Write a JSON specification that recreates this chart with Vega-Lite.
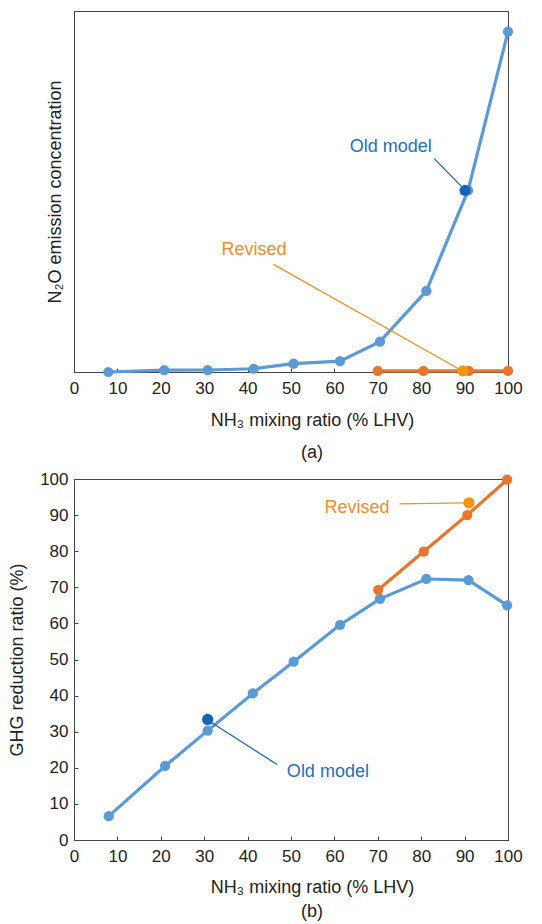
{
  "$schema": "https://vega.github.io/schema/vega-lite/v6.json",
  "padding": {"left": 8, "top": 10, "right": 12, "bottom": 0},
  "spacing": 6,
  "config": {
    "font": "Liberation Sans",
    "view": {"stroke": "#444", "strokeWidth": 1},
    "axis": {
      "domainColor": "#444", "domainWidth": 1, "tickColor": "#444", "tickWidth": 1, "tickSize": -4,
      "labelFontSize": 17, "labelColor": "#222", "labelPadding": 12,
      "titleFontSize": 18, "titleFontWeight": "normal", "titleColor": "#222",
      "grid": false, "labelFlush": false, "labelOverlap": false
    },
    "title": {"fontSize": 18, "fontWeight": "normal", "color": "#222"}
  },
  "datasets": {
    "a": [
      {"series": "Old model", "x": 7.9, "y": 0},
      {"series": "Old model", "x": 20.8, "y": 0.5},
      {"series": "Old model", "x": 30.8, "y": 0.55},
      {"series": "Old model", "x": 41.4, "y": 0.9},
      {"series": "Old model", "x": 50.6, "y": 2.3},
      {"series": "Old model", "x": 61.3, "y": 3.0},
      {"series": "Old model", "x": 70.5, "y": 8.4},
      {"series": "Old model", "x": 81.2, "y": 22.5},
      {"series": "Old model", "x": 90.8, "y": 50.3},
      {"series": "Old model", "x": 100, "y": 94.3},
      {"series": "Revised", "x": 70, "y": 0.3},
      {"series": "Revised", "x": 80.5, "y": 0.3},
      {"series": "Revised", "x": 91, "y": 0.3},
      {"series": "Revised", "x": 100, "y": 0.3}
    ],
    "ahl": [
      {"series": "Old model", "x": 90.1, "y": 50.3},
      {"series": "Revised", "x": 89.6, "y": 0.3}
    ],
    "alab": [
      {"series": "Old model", "x": 73.0, "y": 62.4, "x1": 83.0, "y1": 59.1, "x2": 89.2, "y2": 51.5},
      {"series": "Revised", "x": 41.5, "y": 33.8, "x1": 46.0, "y1": 29.8, "x2": 89.2, "y2": 0.5}
    ],
    "b": [
      {"series": "Old model", "x": 8.0, "y": 6.6},
      {"series": "Old model", "x": 21.0, "y": 20.5},
      {"series": "Old model", "x": 30.8, "y": 30.3},
      {"series": "Old model", "x": 41.2, "y": 40.6},
      {"series": "Old model", "x": 50.6, "y": 49.4},
      {"series": "Old model", "x": 61.3, "y": 59.6},
      {"series": "Old model", "x": 70.5, "y": 66.8},
      {"series": "Old model", "x": 81.2, "y": 72.3},
      {"series": "Old model", "x": 90.9, "y": 72.0},
      {"series": "Old model", "x": 99.8, "y": 65.0},
      {"series": "Revised", "x": 70.1, "y": 69.3},
      {"series": "Revised", "x": 80.6, "y": 79.9},
      {"series": "Revised", "x": 90.6, "y": 90.0},
      {"series": "Revised", "x": 99.8, "y": 99.8}
    ],
    "bhl": [
      {"series": "Old model", "x": 30.8, "y": 33.4},
      {"series": "Revised", "x": 91.0, "y": 93.4}
    ],
    "blab": [
      {"series": "Old model", "x": 58.5, "y": 18.8, "x1": 46.8, "y1": 20.9, "x2": 31.2, "y2": 32.9},
      {"series": "Revised", "x": 65.2, "y": 92.0, "x1": 75.0, "y1": 93.1, "x2": 90.0, "y2": 93.4}
    ]
  },
  "vconcat": [
    {
      "width": 434,
      "height": 361,
      "title": {"text": "(a)", "orient": "bottom", "dx": 21, "offset": 15},
      "encoding": {
        "x": {"field": "x", "type": "quantitative", "scale": {"domain": [0, 100], "nice": false},
              "axis": {"values": [0,10,20,30,40,50,60,70,80,90,100], "title": "NH₃ mixing ratio (% LHV)", "titleX": 238, "titlePadding": 15}},
        "y": {"field": "y", "type": "quantitative", "scale": {"domain": [0, 100], "nice": false},
              "axis": {"labels": false, "ticks": false, "title": "N₂O emission concentration", "titlePadding": 10}}
      },
      "layer": [
        {"data": {"name": "a"}, "mark": {"type": "line", "strokeWidth": 3.2},
         "encoding": {"color": {"field": "series", "type": "nominal", "scale": {"domain": ["Old model", "Revised"], "range": ["#5b9bd5", "#e8772e"]}, "legend": null}}},
        {"data": {"name": "a"}, "mark": {"type": "circle", "size": 105, "opacity": 1},
         "encoding": {"color": {"field": "series", "type": "nominal", "scale": {"domain": ["Old model", "Revised"], "range": ["#5b9bd5", "#e8772e"]}, "legend": null}}},
        {"data": {"name": "ahl"}, "mark": {"type": "circle", "size": 125, "opacity": 1},
         "encoding": {"color": {"field": "series", "type": "nominal", "scale": {"domain": ["Old model", "Revised"], "range": ["#5b9bd5", "#e8772e"]}, "legend": null},
                      "fill": {"field": "series", "type": "nominal", "scale": {"domain": ["Old model", "Revised"], "range": ["#1464b4", "#f5960f"]}, "legend": null}}},
        {"data": {"name": "alab"}, "mark": {"type": "rule", "strokeWidth": 1.3},
         "encoding": {"x": {"field": "x1", "type": "quantitative"}, "y": {"field": "y1", "type": "quantitative"},
                      "x2": {"field": "x2"}, "y2": {"field": "y2"},
                      "color": {"field": "series", "type": "nominal", "scale": {"domain": ["Old model", "Revised"], "range": ["#1f66b0", "#f39020"]}, "legend": null}}},
        {"data": {"name": "alab"}, "mark": {"type": "text", "fontSize": 18, "align": "center", "baseline": "middle"},
         "encoding": {"text": {"field": "series"},
                      "color": {"field": "series", "type": "nominal", "scale": {"domain": ["Old model", "Revised"], "range": ["#1f6fc0", "#f28c28"]}, "legend": null}}}
      ],
      "resolve": {"scale": {"color": "independent", "fill": "independent"}}
    },
    {
      "width": 434,
      "height": 361,
      "title": {"text": "(b)", "orient": "bottom", "dx": 21, "offset": 7},
      "encoding": {
        "x": {"field": "x", "type": "quantitative", "scale": {"domain": [0, 100], "nice": false},
              "axis": {"values": [0,10,20,30,40,50,60,70,80,90,100], "title": "NH₃ mixing ratio (% LHV)", "titleX": 238, "titlePadding": 14}},
        "y": {"field": "y", "type": "quantitative", "scale": {"domain": [0, 100], "nice": false},
              "axis": {"values": [0,10,20,30,40,50,60,70,80,90,100], "title": "GHG reduction ratio (%)", "labelPadding": 10, "titlePadding": 13}}
      },
      "layer": [
        {"data": {"name": "b"}, "mark": {"type": "line", "strokeWidth": 3.2},
         "encoding": {"color": {"field": "series", "type": "nominal", "scale": {"domain": ["Old model", "Revised"], "range": ["#5b9bd5", "#e8772e"]}, "legend": null}}},
        {"data": {"name": "b"}, "mark": {"type": "circle", "size": 105, "opacity": 1},
         "encoding": {"color": {"field": "series", "type": "nominal", "scale": {"domain": ["Old model", "Revised"], "range": ["#5b9bd5", "#e8772e"]}, "legend": null}}},
        {"data": {"name": "bhl"}, "mark": {"type": "circle", "size": 125, "opacity": 1},
         "encoding": {"color": {"field": "series", "type": "nominal", "scale": {"domain": ["Old model", "Revised"], "range": ["#5b9bd5", "#e8772e"]}, "legend": null},
                      "fill": {"field": "series", "type": "nominal", "scale": {"domain": ["Old model", "Revised"], "range": ["#1464b4", "#f5960f"]}, "legend": null}}},
        {"data": {"name": "blab"}, "mark": {"type": "rule", "strokeWidth": 1.3},
         "encoding": {"x": {"field": "x1", "type": "quantitative"}, "y": {"field": "y1", "type": "quantitative"},
                      "x2": {"field": "x2"}, "y2": {"field": "y2"},
                      "color": {"field": "series", "type": "nominal", "scale": {"domain": ["Old model", "Revised"], "range": ["#1f66b0", "#f39020"]}, "legend": null}}},
        {"data": {"name": "blab"}, "mark": {"type": "text", "fontSize": 18, "align": "center", "baseline": "middle"},
         "encoding": {"text": {"field": "series"},
                      "color": {"field": "series", "type": "nominal", "scale": {"domain": ["Old model", "Revised"], "range": ["#1f6fc0", "#f28c28"]}, "legend": null}}}
      ],
      "resolve": {"scale": {"color": "independent", "fill": "independent"}}
    }
  ]
}
